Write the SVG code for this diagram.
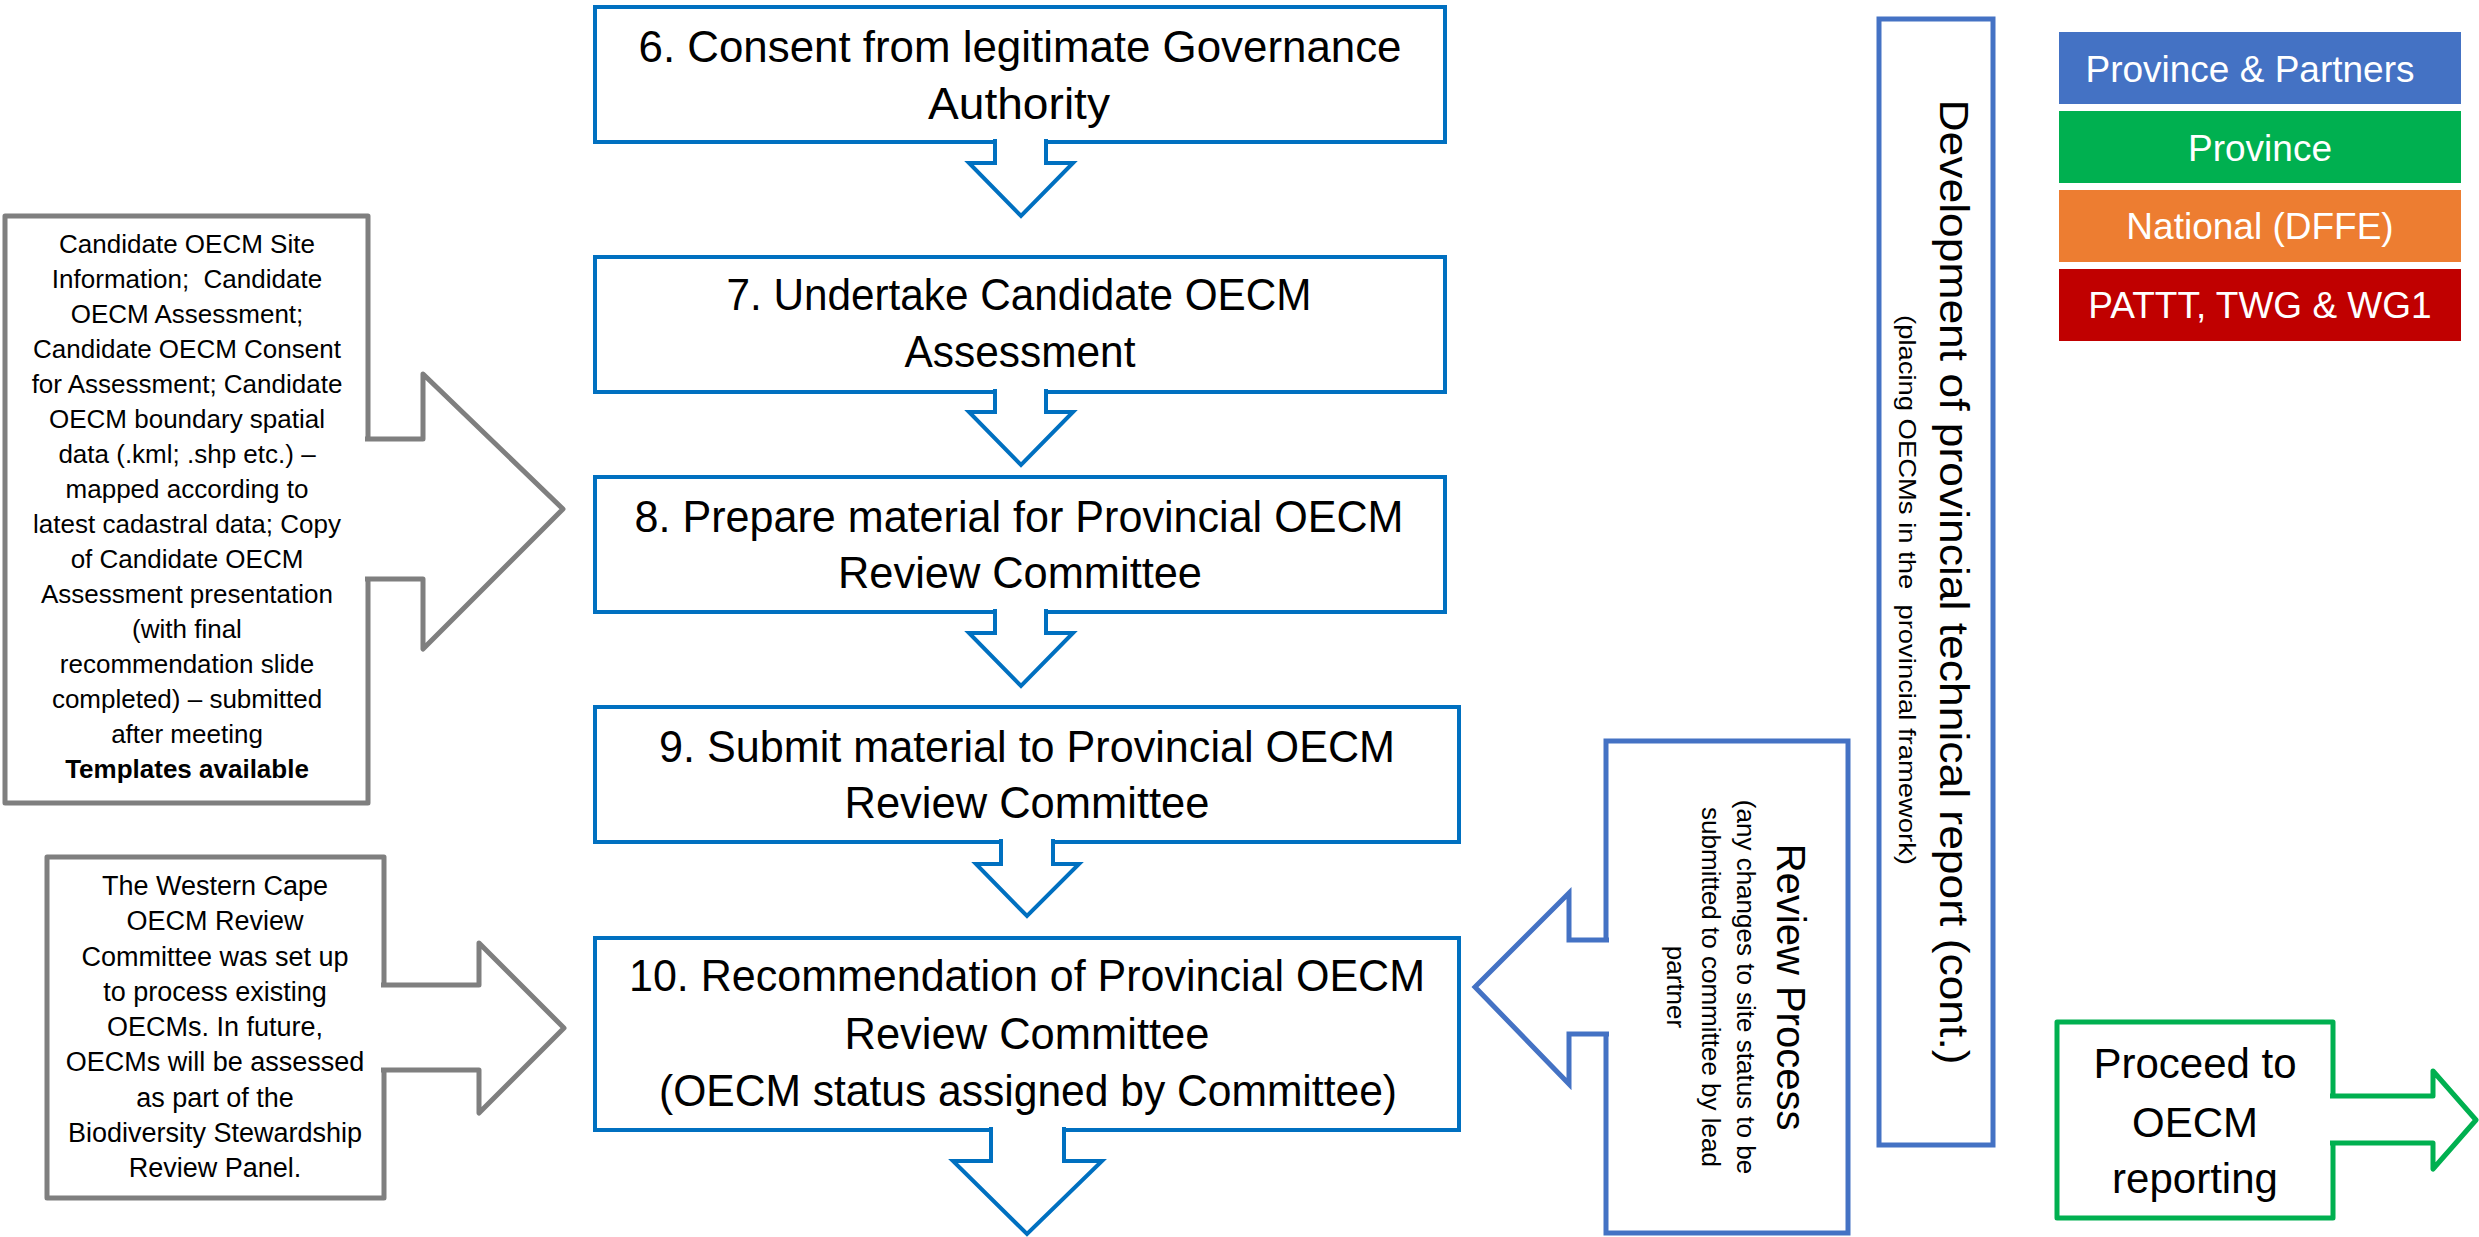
<svg xmlns="http://www.w3.org/2000/svg" width="2479" height="1237" viewBox="0 0 2479 1237">
<style>
.step{fill:#fff;stroke:#0070C0;stroke-width:4}
.stepArrow{fill:#fff;stroke:#0070C0;stroke-width:4}
.note{fill:#fff;stroke:#7F7F7F;stroke-width:5;stroke-linejoin:round}
.noteArrow{fill:#fff;stroke:#7F7F7F;stroke-width:5;stroke-linejoin:round}
.side{fill:#fff;stroke:#4472C4;stroke-width:5}
.sideArrow{fill:#fff;stroke:#4472C4;stroke-width:5}
.go{fill:#fff;stroke:#00B050;stroke-width:5;stroke-linejoin:round}
.main{font-family:"Liberation Sans",Arial,sans-serif;font-size:44px;fill:#000;text-anchor:middle}
.small{font-family:"Liberation Sans",Arial,sans-serif;font-size:26px;fill:#000;text-anchor:middle}
.small27{font-family:"Liberation Sans",Arial,sans-serif;font-size:27px;fill:#000;text-anchor:middle}
.leg{font-family:"Liberation Sans",Arial,sans-serif;font-size:37px;fill:#fff;text-anchor:middle}
.pre{white-space:pre}
</style>

<g id="node-step6">
<rect class="step" x="595" y="7" width="850" height="135"/>
<text class="main" x="1020" y="62" textLength="763" lengthAdjust="spacingAndGlyphs">6. Consent from legitimate Governance</text>
<text class="main" x="1019" y="119" textLength="182" lengthAdjust="spacingAndGlyphs">Authority</text>
</g>
<g id="node-step7">
<rect class="step" x="595" y="257" width="850" height="135"/>
<text class="main" x="1019" y="310" textLength="585" lengthAdjust="spacingAndGlyphs">7. Undertake Candidate OECM</text>
<text class="main" x="1020" y="367" textLength="231" lengthAdjust="spacingAndGlyphs">Assessment</text>
</g>
<g id="node-step8">
<rect class="step" x="595" y="477" width="850" height="135"/>
<text class="main" x="1019" y="532" textLength="769" lengthAdjust="spacingAndGlyphs">8. Prepare material for Provincial OECM</text>
<text class="main" x="1020" y="588" textLength="364" lengthAdjust="spacingAndGlyphs">Review Committee</text>
</g>
<g id="node-step9">
<rect class="step" x="595" y="707" width="864" height="135"/>
<text class="main" x="1027" y="762" textLength="736" lengthAdjust="spacingAndGlyphs">9. Submit material to Provincial OECM</text>
<text class="main" x="1027" y="818" textLength="365" lengthAdjust="spacingAndGlyphs">Review Committee</text>
</g>
<g id="node-step10">
<rect class="step" x="595" y="938" width="864" height="192"/>
<text class="main" x="1027" y="991" textLength="796" lengthAdjust="spacingAndGlyphs">10. Recommendation of Provincial OECM</text>
<text class="main" x="1027" y="1049" textLength="365" lengthAdjust="spacingAndGlyphs">Review Committee</text>
<text class="main" x="1028" y="1106" textLength="738" lengthAdjust="spacingAndGlyphs">(OECM status assigned by Committee)</text>
</g>

<g id="node-materials-note">
<rect class="note" x="5" y="216" width="363" height="587"/>
<text class="small" x="187" y="253">Candidate OECM Site</text>
<text class="small pre" x="187" y="288" xml:space="preserve">Information;  Candidate</text>
<text class="small" x="187" y="323">OECM Assessment;</text>
<text class="small" x="187" y="358">Candidate OECM Consent</text>
<text class="small" x="187" y="393">for Assessment; Candidate</text>
<text class="small" x="187" y="428">OECM boundary spatial</text>
<text class="small" x="187" y="463">data (.kml; .shp etc.) –</text>
<text class="small" x="187" y="498">mapped according to</text>
<text class="small" x="187" y="533">latest cadastral data; Copy</text>
<text class="small" x="187" y="568">of Candidate OECM</text>
<text class="small" x="187" y="603">Assessment presentation</text>
<text class="small" x="187" y="638">(with final</text>
<text class="small" x="187" y="673">recommendation slide</text>
<text class="small" x="187" y="708">completed) – submitted</text>
<text class="small" x="187" y="743">after meeting</text>
<text class="small" x="187" y="778" font-weight="bold">Templates available</text>
</g>

<g id="node-committee-note">
<rect class="note" x="47" y="857" width="337" height="341"/>
<text class="small27" x="215" y="895">The Western Cape</text>
<text class="small27" x="215" y="930">OECM Review</text>
<text class="small27" x="215" y="966">Committee was set up</text>
<text class="small27" x="215" y="1001">to process existing</text>
<text class="small27" x="215" y="1036">OECMs. In future,</text>
<text class="small27" x="215" y="1071">OECMs will be assessed</text>
<text class="small27" x="215" y="1107">as part of the</text>
<text class="small27" x="215" y="1142">Biodiversity Stewardship</text>
<text class="small27" x="215" y="1177">Review Panel.</text>
</g>

<g id="node-review-process">
<rect class="side" x="1606" y="741" width="242" height="492"/>
<text font-family="'Liberation Sans',Arial,sans-serif" font-size="40" text-anchor="middle" transform="translate(1777,987) rotate(90)">Review Process</text>
<text class="small" transform="translate(1737,987) rotate(90)">(any changes to site status to be</text>
<text class="small" transform="translate(1702,987) rotate(90)">submitted to committee by lead</text>
<text class="small" transform="translate(1667,987) rotate(90)">partner</text>
</g>

<g id="node-technical-report">
<rect class="side" x="1879" y="19" width="114" height="1126"/>
<text font-family="'Liberation Sans',Arial,sans-serif" font-size="40" text-anchor="middle" transform="translate(1940,582) rotate(90)" textLength="965" lengthAdjust="spacingAndGlyphs">Development of provincial technical report (cont.)</text>
<text class="pre" xml:space="preserve" font-family="'Liberation Sans',Arial,sans-serif" font-size="24" text-anchor="middle" transform="translate(1899,590) rotate(90)" textLength="550" lengthAdjust="spacingAndGlyphs">(placing OECMs in the  provincial framework)</text>
</g>

<g id="node-proceed">
<rect class="go" x="2057" y="1022" width="276" height="196"/>
<text font-family="'Liberation Sans',Arial,sans-serif" font-size="42" text-anchor="middle" x="2195" y="1078">Proceed to</text>
<text font-family="'Liberation Sans',Arial,sans-serif" font-size="42" text-anchor="middle" x="2195" y="1137">OECM</text>
<text font-family="'Liberation Sans',Arial,sans-serif" font-size="42" text-anchor="middle" x="2195" y="1193">reporting</text>
</g>

<g id="legend">
<g id="legend-province-partners"><rect x="2059" y="32" width="402" height="72" fill="#4472C4"/><text class="leg" x="2250" y="82">Province &amp; Partners</text></g>
<g id="legend-province"><rect x="2059" y="111" width="402" height="72" fill="#00B050"/><text class="leg" x="2260" y="161">Province</text></g>
<g id="legend-national"><rect x="2059" y="190" width="402" height="72" fill="#ED7D31"/><text class="leg" x="2260" y="239">National (DFFE)</text></g>
<g id="legend-pattt"><rect x="2059" y="269" width="402" height="72" fill="#C00000"/><text class="leg" x="2260" y="318">PATTT, TWG &amp; WG1</text></g>
</g>

<g id="connectors">
<path class="stepArrow" d="M995,139 V163 H969 L1021,216 L1073,163 H1046 V139"/>
<path class="stepArrow" d="M995,389 V412 H969 L1021,465 L1073,412 H1046 V389"/>
<path class="stepArrow" d="M995,609 V633 H969 L1021,686 L1073,633 H1046 V609"/>
<path class="stepArrow" d="M1001,839 V864 H976 L1027,916 L1079,864 H1053 V839"/>
<path class="stepArrow" d="M991,1127 V1161 H953 L1027,1234 L1102,1161 H1064 V1127"/>
<path class="noteArrow" d="M365,439 H423 V374 L563,509 L423,649 V579 H365"/>
<path class="noteArrow" d="M381,985 H479 V943 L564,1028 L479,1113 V1070 H381"/>
<path class="sideArrow" d="M1609,940 H1569 V893 L1475,987 L1569,1084 V1034 H1609"/>
<path class="go" d="M2330,1096 H2433 V1071 L2476,1120 L2433,1169 V1143 H2330"/>
</g>
</svg>
